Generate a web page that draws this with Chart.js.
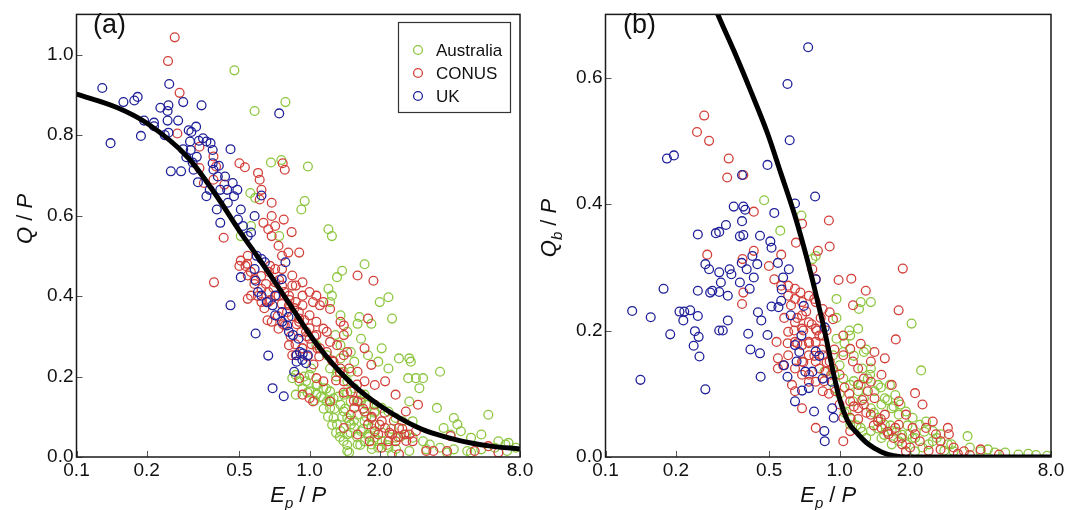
<!DOCTYPE html>
<html>
<head>
<meta charset="utf-8">
<script src="https://cdn.jsdelivr.net/npm/chart.js@4.4.1/dist/chart.umd.min.js"></script>
<style>
  html, body { margin: 0; padding: 0; background: #fff; }
  #wrap { position: relative; width: 1079px; height: 510px; }
  canvas { position: absolute; top: 0; }
  #chart-a { left: 0; }
  #chart-b { left: 540px; }
</style>
</head>
<body>
<div id="wrap">
  <canvas id="chart-a" width="540" height="510"></canvas>
  <canvas id="chart-b" width="539" height="510"></canvas>
</div>
<script>
// Two panels: (a) Q/P and (b) Qb/P against Ep/P, on a log x axis.
const SERIES_NAMES = ["Australia", "CONUS", "UK"];
const X_TICKS = [0.1, 0.2, 0.5, 1.0, 2.0, 8.0];
const YA_TICKS = [0.0, 0.2, 0.4, 0.6, 0.8, 1.0];
const YB_TICKS = [0.0, 0.2, 0.4, 0.6];

// panel (a) fitted curve
const CURVE_A = [[0.1,0.902],[0.15,0.868],[0.2,0.83],[0.3,0.745],[0.4,0.648],[0.5,0.562],[0.6,0.497],[0.7,0.44],[0.8,0.39],[1.0,0.305],[1.2,0.245],[1.5,0.185],[2.0,0.128],[3.0,0.07],[4.0,0.047],[5.0,0.034],[6.0,0.027],[8.0,0.02]];
// panel (b) fitted curve
const CURVE_B = [[0.29,0.715],[0.31,0.69],[0.354,0.642],[0.417,0.579],[0.492,0.512],[0.561,0.449],[0.64,0.385],[0.7,0.335],[0.76,0.285],[0.807,0.245],[0.862,0.2],[0.905,0.163],[0.951,0.125],[1.0,0.092],[1.086,0.056],[1.2,0.036],[1.32,0.021],[1.51,0.008],[1.7,0.002],[2.0,0.0],[8.0,0.0]];

const UK_A = [[0.129,0.917],[0.140,0.780],[0.159,0.882],[0.177,0.886],[0.183,0.895],[0.195,0.836],[0.189,0.798],[0.215,0.831],[0.215,0.822],[0.229,0.868],[0.239,0.800],[0.248,0.806],[0.248,0.874],[0.250,0.927],[0.246,0.860],[0.246,0.836],[0.254,0.710],[0.273,0.836],[0.281,0.710],[0.287,0.882],[0.303,0.812],[0.311,0.808],[0.326,0.821],[0.344,0.874],[0.287,0.765],[0.296,0.745],[0.307,0.784],[0.309,0.763],[0.315,0.732],[0.318,0.714],[0.328,0.746],[0.332,0.683],[0.335,0.786],[0.349,0.792],[0.361,0.648],[0.361,0.784],[0.376,0.780],[0.384,0.763],[0.384,0.730],[0.387,0.714],[0.373,0.664],[0.400,0.615],[0.408,0.724],[0.404,0.697],[0.414,0.664],[0.414,0.582],[0.434,0.697],[0.443,0.664],[0.446,0.632],[0.458,0.765],[0.468,0.681],[0.474,0.648],[0.490,0.664],[0.507,0.615],[0.493,0.590],[0.458,0.377],[0.507,0.447],[0.518,0.574],[0.543,0.549],[0.561,0.558],[0.581,0.599],[0.622,0.650],[0.593,0.500],[0.622,0.492],[0.643,0.484],[0.581,0.467],[0.587,0.438],[0.601,0.410],[0.622,0.401],[0.587,0.307],[0.665,0.252],[0.694,0.171],[0.775,0.151],[0.741,0.854],[0.655,0.385],[0.694,0.377],[0.712,0.401],[0.712,0.352],[0.762,0.360],[0.762,0.336],[0.802,0.327],[0.788,0.484],[0.760,0.442],[0.816,0.311],[0.849,0.303],[0.897,0.294],[0.859,0.212],[0.880,0.253],[0.910,0.261],[0.935,0.257],[0.932,0.241],[0.966,0.233],[0.880,0.237],[0.984,0.253],[0.812,0.348]];

const CONUS_A = [[0.264,1.043],[0.247,0.984],[0.277,0.905],[0.271,0.804],[0.337,0.771],[0.337,0.718],[0.352,0.681],[0.387,0.747],[0.397,0.722],[0.387,0.689],[0.431,0.677],[0.389,0.434],[0.428,0.545],[0.500,0.730],[0.528,0.720],[0.601,0.706],[0.611,0.689],[0.622,0.664],[0.611,0.640],[0.767,0.730],[0.783,0.714],[0.688,0.632],[0.688,0.599],[0.665,0.566],[0.634,0.582],[0.712,0.574],[0.775,0.590],[0.838,0.559],[0.688,0.549],[0.736,0.525],[0.762,0.500],[0.811,0.508],[0.903,0.508],[0.507,0.488],[0.543,0.500],[0.531,0.475],[0.543,0.451],[0.561,0.401],[0.543,0.393],[0.500,0.475],[0.581,0.442],[0.622,0.418],[0.622,0.385],[0.665,0.410],[0.712,0.434],[0.762,0.426],[0.843,0.451],[0.873,0.426],[0.933,0.434],[0.816,0.401],[0.873,0.385],[0.933,0.401],[1.0,0.410],[1.035,0.385],[0.933,0.377],[0.903,0.344],[1.0,0.352],[1.07,0.336],[1.107,0.377],[1.146,0.319],[1.0,0.294],[1.07,0.303],[1.186,0.311],[1.107,0.270],[1.186,0.261],[1.225,0.286],[1.312,0.278],[1.403,0.253],[1.268,0.237],[1.358,0.220],[1.452,0.261],[1.479,0.220],[1.403,0.188],[1.503,0.163],[1.607,0.212],[1.722,0.188],[1.663,0.155],[1.607,0.138],[1.556,0.122],[1.722,0.113],[1.842,0.097],[1.782,0.081],[1.906,0.064],[1.811,0.039],[1.972,0.056],[2.04,0.089],[2.11,0.072],[2.26,0.056],[2.34,0.039],[2.42,0.072],[2.55,0.056],[2.68,0.056],[2.77,0.039],[2.86,0.064],[2.92,0.130],[2.59,0.113],[2.34,0.155],[2.11,0.188],[1.906,0.179],[1.842,0.229],[1.722,0.270],[1.782,0.344],[1.88,0.438],[1.607,0.451],[1.403,0.303],[1.358,0.336],[1.225,0.368],[1.146,0.385],[1.07,0.401],[1.403,0.327],[3.17,0.015],[3.40,0.015],[3.89,0.015],[4.03,0.052],[5.11,0.015],[5.85,0.027],[6.46,0.011],[1.225,0.138],[1.146,0.188],[1.07,0.196],[0.933,0.155],[1.0,0.146],[1.035,0.138],[0.903,0.196],[0.873,0.253],[0.736,0.401],[0.665,0.385],[0.688,0.336],[0.736,0.319],[0.783,0.327],[0.816,0.278],[0.843,0.253],[0.933,0.270],[0.966,0.311],[0.903,0.336],[0.816,0.377],[0.712,0.467],[0.677,0.475],[0.762,0.467],[0.843,0.426],[2.42,0.007],[2.04,0.023],[2.18,0.039],[1.607,0.056],[1.403,0.072],[1.503,0.105],[0.62,0.45],[0.65,0.43],[0.67,0.46],[0.7,0.42],[0.72,0.40],[0.74,0.44],[0.76,0.38],[0.78,0.41],[0.8,0.36],[0.82,0.39],[0.84,0.35],[0.86,0.37],[0.88,0.33],[0.9,0.36],[0.92,0.31],[0.95,0.34],[0.97,0.30],[1.0,0.32],[1.02,0.28],[1.05,0.30],[1.08,0.27],[1.1,0.25],[0.68,0.39],[0.73,0.35],[0.77,0.33],[0.83,0.30],[0.87,0.28],[0.93,0.27],[0.98,0.25],[1.04,0.23],[0.6,0.40],[0.64,0.37],[0.58,0.43],[0.56,0.46],[0.54,0.48],[0.66,0.34],[1.3,0.19],[1.4,0.16],[1.55,0.14],[1.7,0.12],[1.85,0.10],[2.0,0.08],[2.2,0.06],[2.4,0.05],[2.6,0.04],[1.25,0.24],[1.35,0.21],[1.6,0.18],[1.9,0.13],[2.1,0.11],[2.3,0.09],[2.5,0.07]];

const AU_A = [[0.476,0.961],[0.581,0.860],[0.788,0.882],[0.683,0.732],[0.757,0.738],[0.984,0.722],[0.557,0.656],[0.585,0.644],[0.953,0.636],[0.922,0.615],[1.205,0.566],[1.247,0.549],[1.722,0.479],[1.38,0.463],[1.312,0.447],[1.205,0.418],[1.247,0.401],[1.225,0.385],[2.0,0.385],[2.18,0.397],[2.26,0.344],[1.358,0.352],[1.636,0.348],[1.607,0.331],[1.842,0.331],[1.452,0.311],[1.663,0.294],[2.04,0.270],[1.782,0.253],[1.503,0.261],[1.972,0.237],[2.18,0.220],[2.42,0.245],[2.68,0.245],[2.72,0.237],[2.65,0.196],[2.86,0.196],[3.07,0.196],[2.96,0.171],[3.63,0.212],[3.52,0.122],[3.76,0.072],[4.16,0.097],[4.31,0.081],[4.46,0.064],[4.03,0.056],[4.93,0.048],[5.46,0.056],[5.85,0.105],[6.46,0.039],[6.93,0.031],[7.14,0.035],[6.24,0.023],[5.46,0.019],[4.75,0.015],[4.16,0.019],[3.63,0.023],[3.17,0.019],[3.28,0.031],[3.07,0.039],[2.77,0.048],[2.59,0.056],[2.34,0.048],[2.18,0.023],[1.972,0.023],[1.842,0.031],[1.722,0.039],[1.607,0.031],[1.479,0.011],[1.452,0.056],[1.358,0.064],[1.312,0.081],[1.268,0.097],[1.225,0.122],[1.186,0.138],[1.146,0.146],[1.07,0.155],[1.0,0.163],[0.933,0.171],[0.903,0.188],[0.873,0.204],[1.0,0.204],[1.07,0.179],[1.146,0.171],[1.225,0.163],[1.268,0.146],[1.358,0.130],[1.403,0.113],[1.452,0.097],[1.503,0.081],[1.556,0.072],[1.663,0.064],[1.782,0.056],[1.906,0.048],[2.04,0.039],[1.403,0.155],[1.503,0.138],[1.607,0.105],[1.722,0.089],[1.842,0.072],[1.452,0.188],[1.556,0.171],[1.663,0.138],[1.722,0.155],[1.782,0.130],[1.906,0.113],[2.04,0.122],[2.18,0.113],[2.34,0.097],[2.5,0.089],[2.77,0.089],[2.68,0.138],[1.312,0.212],[1.225,0.220],[1.186,0.253],[1.358,0.245],[1.403,0.212],[1.503,0.212],[1.556,0.237],[1.358,0.278],[1.290,0.303],[1.07,0.278],[1.017,0.220],[0.966,0.188],[0.843,0.196],[0.873,0.155],[1.452,0.015],[2.26,0.007],[2.68,0.015],[3.89,0.011],[4.93,0.011],[7.67,0.023],[7.04,0.015],[0.561,0.574],[0.741,0.549],[0.507,0.549],[1.15,0.12],[1.2,0.1],[1.25,0.08],[1.3,0.06],[1.35,0.05],[1.4,0.04],[1.45,0.03],[1.5,0.06],[1.55,0.09],[1.6,0.05],[1.65,0.03],[1.7,0.07],[1.75,0.1],[1.8,0.05],[1.85,0.02],[1.9,0.08],[1.95,0.04],[2.05,0.06],[2.15,0.03],[2.25,0.07],[2.35,0.02],[2.45,0.05],[1.12,0.15],[1.18,0.17],[1.22,0.14],[1.28,0.12],[1.33,0.15],[1.38,0.10],[1.42,0.12],[1.48,0.09],[1.05,0.14],[1.08,0.18],[0.95,0.2],[0.98,0.16],[1.3,0.2],[1.45,0.16],[1.6,0.14],[1.75,0.13],[1.9,0.11]];

const UK_B = [[0.130,0.231],[0.141,0.122],[0.156,0.221],[0.177,0.266],[0.183,0.472],[0.196,0.477],[0.189,0.194],[0.207,0.230],[0.215,0.216],[0.217,0.230],[0.230,0.232],[0.238,0.176],[0.241,0.199],[0.248,0.223],[0.250,0.190],[0.252,0.159],[0.248,0.263],[0.248,0.352],[0.267,0.305],[0.277,0.297],[0.267,0.107],[0.280,0.260],[0.286,0.263],[0.296,0.354],[0.306,0.356],[0.306,0.292],[0.311,0.276],[0.306,0.261],[0.306,0.200],[0.317,0.200],[0.327,0.367],[0.333,0.255],[0.339,0.297],[0.345,0.289],[0.333,0.216],[0.353,0.396],[0.375,0.276],[0.375,0.349],[0.382,0.307],[0.383,0.373],[0.388,0.396],[0.383,0.446],[0.388,0.351],[0.395,0.391],[0.401,0.297],[0.407,0.195],[0.413,0.266],[0.416,0.170],[0.424,0.318],[0.430,0.284],[0.445,0.305],[0.448,0.229],[0.457,0.164],[0.457,0.350],[0.460,0.127],[0.463,0.216],[0.492,0.462],[0.492,0.193],[0.506,0.341],[0.512,0.331],[0.512,0.238],[0.526,0.386],[0.545,0.307],[0.548,0.237],[0.563,0.247],[0.566,0.265],[0.574,0.284],[0.599,0.590],[0.607,0.297],[0.612,0.501],[0.618,0.224],[0.645,0.401],[0.655,0.151],[0.645,0.177],[0.673,0.166],[0.687,0.192],[0.714,0.135],[0.703,0.239],[0.734,0.648],[0.739,0.109],[0.778,0.072],[0.786,0.412],[0.791,0.281],[0.791,0.167],[0.819,0.160],[0.765,0.135],[0.864,0.205],[0.861,0.041],[0.864,0.025],[0.930,0.077],[0.944,0.062],[0.925,0.119],[0.847,0.124],[0.579,0.145],[0.599,0.127],[0.691,0.105],[0.645,0.088]];

const CONUS_B = [[0.264,0.540],[0.246,0.514],[0.277,0.500],[0.336,0.472],[0.331,0.442],[0.388,0.446],[0.430,0.388],[0.272,0.320],[0.385,0.313],[0.430,0.326],[0.499,0.302],[0.563,0.320],[0.651,0.339],[0.691,0.369],[0.900,0.374],[0.907,0.333],[0.808,0.326],[0.791,0.281],[0.765,0.297],[0.990,0.280],[1.122,0.282],[1.294,0.263],[1.862,0.298],[1.141,0.240],[1.787,0.232],[1.738,0.186],[1.409,0.166],[1.231,0.179],[0.383,0.242],[0.388,0.260],[0.538,0.182],[0.545,0.156],[0.545,0.140],[0.574,0.145],[0.526,0.281],[0.563,0.271],[0.603,0.271],[0.645,0.266],[0.603,0.255],[0.645,0.250],[0.691,0.245],[0.739,0.255],[0.791,0.245],[0.847,0.234],[0.907,0.229],[0.937,0.218],[0.691,0.224],[0.739,0.213],[0.791,0.203],[0.847,0.192],[0.691,0.203],[0.645,0.213],[0.603,0.198],[0.645,0.182],[0.691,0.177],[0.739,0.182],[0.791,0.182],[0.819,0.192],[0.739,0.161],[0.791,0.151],[0.847,0.161],[0.907,0.151],[0.603,0.161],[0.645,0.140],[0.691,0.130],[0.739,0.119],[0.791,0.119],[0.691,0.151],[0.626,0.114],[0.645,0.104],[0.691,0.077],[0.791,0.046],[0.847,0.104],[0.874,0.135],[0.937,0.140],[0.960,0.104],[1.0,0.083],[1.037,0.062],[1.037,0.025],[1.11,0.041],[1.11,0.062],[1.11,0.088],[1.037,0.161],[1.037,0.192],[1.11,0.171],[1.14,0.151],[1.2,0.140],[1.2,0.114],[1.27,0.124],[1.32,0.104],[1.36,0.119],[1.41,0.093],[1.27,0.083],[1.2,0.077],[1.36,0.067],[1.46,0.056],[1.56,0.067],[1.51,0.046],[1.62,0.036],[1.73,0.046],[1.84,0.030],[1.79,0.051],[1.92,0.067],[2.05,0.046],[2.10,0.036],[2.2,0.025],[2.10,0.101],[2.26,0.083],[2.5,0.056],[2.58,0.036],[2.7,0.025],[2.9,0.046],[2.93,0.036],[3.07,0.015],[3.4,0.009],[4.0,0.012],[4.8,0.004],[2.34,0.046],[1.92,0.009],[1.79,0.088],[1.67,0.114],[1.51,0.130],[1.56,0.156],[1.36,0.151],[0.62,0.24],[0.66,0.22],[0.68,0.26],[0.7,0.2],[0.72,0.23],[0.74,0.18],[0.76,0.21],[0.78,0.16],[0.8,0.2],[0.82,0.14],[0.84,0.17],[0.86,0.12],[0.88,0.15],[0.9,0.1],[0.92,0.13],[0.66,0.18],[0.7,0.15],[0.74,0.13],[0.64,0.2],[0.58,0.22],[0.6,0.18],[0.78,0.25],[0.83,0.22],[0.88,0.2],[0.95,0.17],[1.0,0.13],[1.05,0.11],[1.1,0.1],[1.15,0.08],[1.2,0.06],[1.25,0.09],[1.3,0.07],[1.4,0.05],[1.5,0.06],[1.6,0.04],[1.7,0.03],[1.85,0.02],[2.0,0.015],[2.4,0.01],[2.7,0.012],[3.2,0.005],[3.6,0.003]];

const AU_B = [[0.476,0.406],[0.558,0.358],[0.687,0.382],[0.765,0.313],[0.791,0.318],[0.970,0.250],[1.231,0.245],[1.36,0.245],[1.21,0.234],[2.03,0.211],[2.23,0.137],[1.64,0.114],[1.73,0.098],[1.82,0.083],[1.92,0.072],[2.05,0.062],[2.2,0.051],[2.34,0.056],[2.5,0.041],[2.7,0.036],[3.52,0.033],[3.6,0.015],[4.0,0.009],[4.3,0.012],[4.6,0.007],[5.1,0.007],[5.8,0.004],[6.4,0.005],[6.9,0.003],[7.7,0.002],[3.07,0.009],[2.9,0.020],[2.5,0.025],[2.26,0.015],[2.10,0.030],[1.98,0.036],[1.79,0.025],[1.67,0.041],[1.56,0.051],[1.46,0.062],[1.36,0.077],[1.27,0.093],[1.2,0.104],[1.11,0.114],[1.037,0.124],[1.0,0.145],[1.037,0.166],[1.11,0.192],[1.2,0.203],[1.27,0.166],[1.36,0.140],[1.46,0.114],[1.56,0.093],[1.67,0.077],[1.79,0.067],[1.51,0.083],[1.41,0.104],[1.32,0.124],[1.23,0.114],[1.14,0.088],[1.07,0.072],[1.11,0.051],[1.23,0.046],[1.36,0.041],[1.51,0.030],[1.67,0.020],[1.92,0.020],[2.10,0.009],[0.970,0.187],[0.937,0.161],[0.952,0.109],[0.861,0.135],[1.05,0.07],[1.12,0.06],[1.18,0.05],[1.25,0.04],[1.3,0.03],[1.4,0.07],[1.45,0.045],[1.55,0.035],[1.65,0.05],[1.75,0.04],[1.85,0.035],[1.95,0.05],[2.05,0.03],[2.3,0.04],[2.4,0.02],[2.6,0.03],[2.8,0.01],[3.0,0.02],[1.0,0.1],[0.95,0.13],[1.15,0.12],[1.25,0.14],[1.35,0.13],[1.5,0.11],[1.6,0.09],[1.7,0.08],[1.3,0.17],[1.15,0.16],[1.1,0.2],[0.97,0.22],[1.05,0.18]];

const COLORS = { Australia: "#8dc63f", CONUS: "#d3403a", UK: "#20209a" };
const FONT = '"Liberation Sans", Arial, sans-serif';

const pts = (arr) => arr.map(([x, y]) => ({ x, y }));

function pointSet(name, arr) {
  return {
    label: name,
    data: pts(arr),
    borderColor: COLORS[name],
    backgroundColor: "rgba(0,0,0,0)",
    pointRadius: 4.4,
    borderWidth: 1.3,
    pointHoverRadius: 4.4,
  };
}

function curveSet(arr) {
  return {
    type: "line",
    data: pts(arr),
    borderColor: "#000",
    borderWidth: 5,
    pointRadius: 0,
    showLine: true,
    fill: false,
    cubicInterpolationMode: "monotone",
    clip: 0,
  };
}

// draws pieces of text with italics / subscripts, centred on the origin
function drawRich(ctx, parts, size) {
  const fonts = parts.map((p) => `${p.it ? "italic " : ""}${Math.round(p.sub ? size * 0.68 : size)}px ${FONT}`);
  const widths = parts.map((p, i) => {
    ctx.font = fonts[i];
    return ctx.measureText(p.t).width;
  });
  let x = -widths.reduce((a, b) => a + b, 0) / 2;
  parts.forEach((p, i) => {
    ctx.font = fonts[i];
    ctx.fillText(p.t, x, p.sub ? size * 0.28 : 0);
    x += widths[i];
  });
}

const decorations = {
  id: "decorations",
  afterDraw(chart, args, opts) {
    const { ctx, chartArea: a, scales } = chart;
    ctx.save();
    // inward tick marks
    ctx.strokeStyle = "#555";
    ctx.lineWidth = 1;
    ctx.beginPath();
    scales.x.ticks.forEach((t) => {
      const px = Math.round(scales.x.getPixelForValue(t.value)) + 0.5;
      ctx.moveTo(px, a.bottom);
      ctx.lineTo(px, a.bottom - 6);
    });
    scales.y.ticks.forEach((t) => {
      const py = Math.round(scales.y.getPixelForValue(t.value)) + 0.5;
      ctx.moveTo(a.left, py);
      ctx.lineTo(a.left + 6, py);
    });
    ctx.stroke();
    // frame
    ctx.strokeStyle = "#1a1a1a";
    ctx.lineWidth = 1.5;
    ctx.strokeRect(a.left, a.top, a.right - a.left, a.bottom - a.top);

    ctx.fillStyle = "#111";
    ctx.textBaseline = "alphabetic";
    // x title
    ctx.save();
    ctx.translate((a.left + a.right) / 2, 502);
    drawRich(ctx, [{ t: "E", it: 1 }, { t: "p", it: 1, sub: 1 }, { t: " / " }, { t: "P", it: 1 }], 22);
    ctx.restore();
    // y title
    ctx.save();
    ctx.translate(opts.yTitleX, opts.yTitleY);
    ctx.rotate(-Math.PI / 2);
    drawRich(ctx, opts.yTitle, 22);
    ctx.restore();
    // panel label
    ctx.font = `27px ${FONT}`;
    ctx.textBaseline = "middle";
    ctx.fillText(opts.label, opts.labelX, 26);

    if (opts.legend) {
      ctx.strokeStyle = "#333";
      ctx.lineWidth = 1.2;
      ctx.strokeRect(398.5, 22.5, 112, 90);
      ctx.font = `17px ${FONT}`;
      SERIES_NAMES.forEach((name, i) => {
        const y = 50 + i * 23;
        ctx.strokeStyle = COLORS[name];
        ctx.lineWidth = 1.3;
        ctx.beginPath();
        ctx.arc(418, y, 4.4, 0, Math.PI * 2);
        ctx.stroke();
        ctx.fillStyle = "#111";
        ctx.fillText(name, 436, y + 1);
      });
    }
    ctx.restore();
  },
};

function makeChart(canvasId, cfg) {
  const tickFont = { family: FONT, size: 19 };
  return new Chart(document.getElementById(canvasId), {
    type: "scatter",
    data: {
      datasets: [
        curveSet(cfg.curve),
        pointSet("UK", cfg.uk),
        pointSet("CONUS", cfg.conus),
        pointSet("Australia", cfg.au),
      ],
    },
    plugins: [decorations],
    options: {
      responsive: false,
      animation: false,
      events: [],
      devicePixelRatio: 1,
      layout: { padding: { top: 10, right: cfg.padRight, left: 0, bottom: 0 } },
      plugins: {
        legend: { display: false },
        tooltip: { enabled: false },
        decorations: cfg.deco,
      },
      scales: {
        x: {
          type: "logarithmic",
          min: 0.1,
          max: 8,
          afterBuildTicks: (s) => { s.ticks = X_TICKS.map((v) => ({ value: v })); },
          afterFit: (s) => { s.height = 53; },
          ticks: { callback: (v) => Number(v).toFixed(1), font: tickFont, color: "#111", padding: 2, autoSkip: false, maxRotation: 0 },
          grid: { display: false, drawTicks: false },
          border: { display: false },
        },
        y: {
          min: 0,
          max: cfg.yMax,
          afterBuildTicks: (s) => { s.ticks = cfg.yTicks.map((v) => ({ value: v })); },
          afterFit: (s) => { s.width = cfg.yWidth; },
          ticks: { callback: (v) => Number(v).toFixed(1), font: tickFont, color: "#111", padding: 3 },
          grid: { display: false, drawTicks: false },
          border: { display: false },
        },
      },
    },
  });
}

makeChart("chart-a", {
  curve: CURVE_A, uk: UK_A, conus: CONUS_A, au: AU_A,
  yMax: 1.1, yTicks: YA_TICKS, yWidth: 76.5, padRight: 20,
  deco: {
    label: "(a)", labelX: 93, legend: true,
    yTitleX: 32, yTitleY: 219,
    yTitle: [{ t: "Q", it: 1 }, { t: " / " }, { t: "P", it: 1 }],
  },
});

makeChart("chart-b", {
  curve: CURVE_B, uk: UK_B, conus: CONUS_B, au: AU_B,
  yMax: 0.7, yTicks: YB_TICKS, yWidth: 65.5, padRight: 28,
  deco: {
    label: "(b)", labelX: 83, legend: false,
    yTitleX: 16, yTitleY: 228,
    yTitle: [{ t: "Q", it: 1 }, { t: "b", it: 1, sub: 1 }, { t: " / " }, { t: "P", it: 1 }],
  },
});
</script>
</body>
</html>
